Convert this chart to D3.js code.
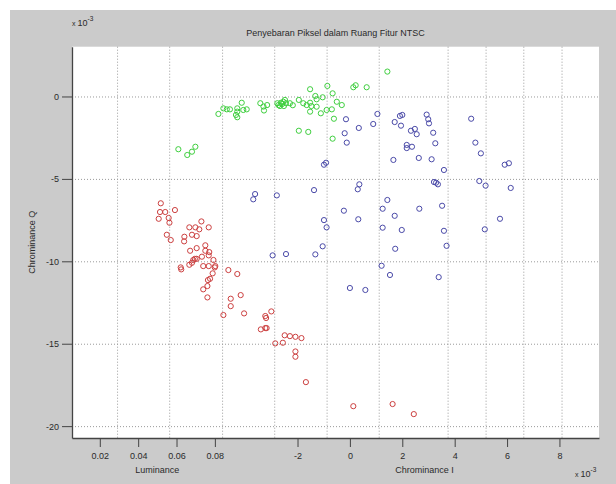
<!DOCTYPE html>
<html>
<head>
<meta charset="utf-8">
<script src="https://cdn.jsdelivr.net/npm/d3@7"></script>
<style>
  body { margin: 0; background: #fff; }
  svg text { font-family: "Liberation Sans", Arial, sans-serif; fill: #2a2a2a; }
</style>
</head>
<body>
<div id="chartArea"></div>
<script>
// values in units of 1e-3 (Chrominance I, Chrominance Q)
var redPoints = [
  [-7.22, -6.48], [-7.25, -7.01], [-7.05, -7.01], [-6.68, -6.89], [-7.30, -7.42],
  [-6.92, -7.37], [-6.89, -7.66], [-6.99, -8.39], [-6.84, -8.71], [-6.32, -8.51],
  [-6.33, -8.79], [-6.13, -7.94], [-5.90, -7.94], [-5.75, -8.06], [-5.67, -7.58],
  [-5.39, -7.94], [-6.03, -8.39], [-5.85, -8.47], [-6.10, -9.36], [-5.85, -9.20],
  [-5.52, -9.03], [-5.52, -9.36], [-5.37, -9.44], [-5.39, -9.64], [-5.65, -9.72],
  [-5.85, -9.85], [-5.92, -9.85], [-5.98, -9.92], [-6.03, -10.09], [-6.13, -10.21],
  [-6.46, -10.37], [-6.44, -10.49], [-5.60, -10.29], [-5.39, -10.29], [-5.21, -9.92],
  [-5.14, -10.29], [-5.16, -10.37], [-5.24, -10.73], [-5.34, -11.06], [-5.42, -11.14],
  [-5.44, -11.50], [-5.60, -11.70], [-5.44, -12.19], [-4.64, -10.53], [-4.30, -10.77],
  [-4.55, -12.27], [-4.55, -12.72], [-4.17, -12.05], [-4.83, -13.26], [-4.04, -13.16],
  [-3.23, -13.32], [-3.20, -13.44], [-3.00, -13.04], [-3.40, -14.13], [-3.23, -14.05],
  [-3.18, -14.05], [-2.49, -14.49], [-2.29, -14.54], [-2.08, -14.58], [-1.85, -14.66],
  [-2.85, -14.98], [-2.56, -14.94], [-2.08, -15.47], [-2.08, -15.79], [-1.68, -17.33],
  [0.13, -18.79], [1.63, -18.66], [2.44, -19.27]
];
var greenPoints = [
  [-6.55, -3.20], [-6.21, -3.55], [-6.03, -3.35], [-5.90, -3.05], [-5.02, -1.06],
  [-4.83, -0.72], [-4.70, -0.78], [-4.58, -0.78], [-4.30, -0.72], [-4.30, -0.92],
  [-4.35, -1.12], [-4.30, -1.26], [-4.13, -0.38], [-3.94, -0.78], [-4.07, -0.82],
  [-3.42, -0.41], [-3.30, -0.61], [-3.16, -0.52], [-3.28, -0.85], [-2.77, -0.41],
  [-2.73, -0.52], [-2.63, -0.38], [-2.54, -0.32], [-2.44, -0.41], [-2.67, -0.58],
  [-2.48, -0.21], [-2.29, -0.41], [-2.18, -0.53], [-2.59, -0.46], [-2.52, -0.58],
  [-1.95, -0.21], [-1.78, -0.41], [-1.65, -0.52], [-1.47, -0.58], [-1.52, -0.38],
  [-1.27, -0.62], [-1.52, -0.92], [-1.11, -1.02], [-0.89, -0.82], [-0.69, -0.78],
  [-0.50, -0.32], [-0.31, -0.52], [-1.04, -0.05], [-1.32, 0.03], [-1.27, -0.17],
  [-1.52, 0.44], [-0.86, 0.64], [-0.66, 0.19], [0.13, 0.56], [0.22, 0.68],
  [0.64, 0.56], [1.43, 1.51], [-0.61, -1.35], [-1.95, -2.08], [-1.59, -2.15],
  [-0.66, -2.56]
];
var bluePoints = [
  [-3.62, -5.92], [-3.69, -6.24], [-2.79, -6.00], [-2.44, -9.56], [-2.95, -9.64],
  [-0.15, -1.38], [0.34, -1.91], [0.89, -1.67], [1.05, -1.06], [-0.20, -2.23],
  [-0.12, -2.80], [1.71, -1.55], [1.91, -1.18], [2.00, -1.12], [1.95, -1.77],
  [2.33, -2.08], [2.48, -1.97], [2.55, -2.29], [2.93, -1.10], [2.99, -1.38],
  [3.02, -1.63], [3.18, -2.20], [3.26, -2.84], [2.17, -2.94], [2.37, -3.05],
  [2.17, -3.13], [2.63, -3.73], [1.66, -3.85], [3.12, -3.81], [3.59, -4.46],
  [4.63, -1.35], [4.79, -2.80], [5.00, -3.45], [5.91, -4.14], [6.07, -4.05],
  [-0.99, -4.14], [-0.91, -4.02], [-1.37, -5.68], [0.36, -5.33], [0.30, -5.63],
  [3.21, -5.19], [3.29, -5.23], [3.36, -5.33], [4.94, -5.13], [5.18, -5.41],
  [6.14, -5.55], [1.43, -6.28], [1.25, -6.81], [2.65, -6.81], [3.52, -6.63],
  [-0.23, -6.93], [0.32, -7.45], [1.71, -7.24], [-0.99, -7.50], [-0.89, -7.94],
  [1.25, -7.96], [1.98, -8.10], [3.59, -8.15], [5.73, -7.42], [5.15, -8.06],
  [-1.04, -9.09], [1.73, -9.24], [3.69, -9.06], [-1.32, -9.58], [1.21, -10.27],
  [1.53, -10.83], [3.39, -10.96], [0.00, -11.62], [0.59, -11.74]
];

var yTicks = [0, -5, -10, -15, -20];
var chromTicks = [-2, 0, 2, 4, 6, 8];
var lumTicks = [0.02, 0.04, 0.06, 0.08];
var gridI = [-8.89, -6.90, -4.88, -2.89, -0.89, 1.10, 3.73, 5.18, 6.62, 8.08];

var titleText = 'Penyebaran Piksel dalam Ruang Fitur NTSC';

var W = 616, H = 484;
var margin = {top: 46.7, right: 17, bottom: 46, left: 72},
    width = W - margin.left - margin.right,
    height = H - margin.top - margin.bottom;

var svg = d3.select('#chartArea').append('svg')
    .attr('width', W)
    .attr('height', H);

// figure background
svg.append('rect')
    .attr('x', 10).attr('y', 10)
    .attr('width', W - 10).attr('height', H - 10)
    .attr('fill', '#cbcbcb');

var g = svg.append('g')
    .attr('transform', 'translate(' + margin.left + ',' + margin.top + ')');

g.append('rect')
    .attr('width', width)
    .attr('height', height)
    .attr('fill', '#fff');

// scales
var xScale = d3.scaleLinear().domain([-10.61, 9.51]).range([0, width]);
var lumScale = d3.scaleLinear().domain([0.0055, 0.2803]).range([0, width]);
var yScale = d3.scaleLinear().domain([-20.72, 3.02]).range([height, 0]);

// grid
g.append('g')
    .attr('class', 'grid')
    .call(d3.axisLeft(yScale).tickValues(yTicks).tickSize(-width).tickFormat(''))
    .call(function(s) { s.select('.domain').remove(); });
g.append('g')
    .attr('class', 'grid')
    .attr('transform', 'translate(0,' + height + ')')
    .call(d3.axisBottom(xScale).tickValues(gridI).tickSize(height).tickFormat(''))
    .call(function(s) { s.select('.domain').remove(); });
g.selectAll('.grid line')
    .attr('stroke', '#9a9a9a')
    .attr('stroke-width', 1)
    .attr('stroke-dasharray', '1,2');
g.selectAll('.grid .tick line').filter(function() { return this.parentNode.parentNode.getAttribute('transform'); })
    .attr('transform', 'translate(0,' + (-height) + ')');

// points
function drawSeries(data, color) {
  g.append('g').selectAll('circle')
    .data(data)
    .enter()
      .append('circle')
      .attr('cx', function(d) { return xScale(d[0]); })
      .attr('cy', function(d) { return yScale(d[1]); })
      .attr('r', 2.6)
      .attr('fill', 'none')
      .attr('stroke', color)
      .attr('stroke-width', 1);
}
drawSeries(greenPoints, '#3fcf3f');
drawSeries(bluePoints, '#4a4aa8');
drawSeries(redPoints, '#cc4040');

// axes
var yAxis = g.append('g')
    .call(d3.axisLeft(yScale).tickValues(yTicks).tickSizeInner(10).tickSizeOuter(0).tickPadding(3)
      .tickFormat(function(d) { return String(d); }));
yAxis.select('.domain').attr('stroke', '#444').attr('stroke-width', 1.3);
yAxis.selectAll('.tick line').attr('stroke', '#444');

var chromAxis = g.append('g')
    .attr('transform', 'translate(0,' + height + ')')
    .call(d3.axisBottom(xScale).tickValues(chromTicks).tickSizeInner(9).tickSizeOuter(0).tickPadding(6)
      .tickFormat(function(d) { return String(d); }));
chromAxis.select('.domain').attr('stroke', '#444').attr('stroke-width', 1.3);
chromAxis.selectAll('.tick line').attr('stroke', '#444');

var lumAxis = g.append('g')
    .attr('transform', 'translate(0,' + height + ')')
    .call(d3.axisBottom(lumScale).tickValues(lumTicks).tickSizeInner(9).tickSizeOuter(0).tickPadding(6)
      .tickFormat(d3.format('.2f')));
lumAxis.select('.domain').remove();
lumAxis.selectAll('.tick line').attr('stroke', '#444');

svg.selectAll('.tick text')
    .attr('font-size', 9)
    .attr('fill', '#2a2a2a')
    .style('font-family', '"Liberation Sans", Arial, sans-serif');

// labels
g.append('text')
    .attr('x', width / 2)
    .attr('y', -11)
    .attr('text-anchor', 'middle')
    .attr('font-size', 9)
    .text(titleText);

g.append('text')
    .attr('transform', 'translate(' + (-37) + ',' + (height / 2) + ') rotate(-90)')
    .attr('text-anchor', 'middle')
    .attr('font-size', 9)
    .text('Chrominance Q');

g.append('text')
    .attr('x', (lumScale(0.02) + lumScale(0.08)) / 2)
    .attr('y', height + 35)
    .attr('text-anchor', 'middle')
    .attr('font-size', 9)
    .text('Luminance');

g.append('text')
    .attr('x', (xScale(-2) + xScale(8)) / 2 - 4)
    .attr('y', height + 35)
    .attr('text-anchor', 'middle')
    .attr('font-size', 9)
    .text('Chrominance I');

// exponent labels
function expLabel(x, y) {
  var t = svg.append('text')
      .attr('x', x)
      .attr('y', y)
      .attr('font-size', 9);
  t.append('tspan').attr('font-size', 7).text('x ');
  t.append('tspan').text('10');
  t.append('tspan').attr('font-size', 6.5).attr('dy', -5).text('-3');
}
expLabel(72, 26);
expLabel(575, 477);
</script>
</body>
</html>
